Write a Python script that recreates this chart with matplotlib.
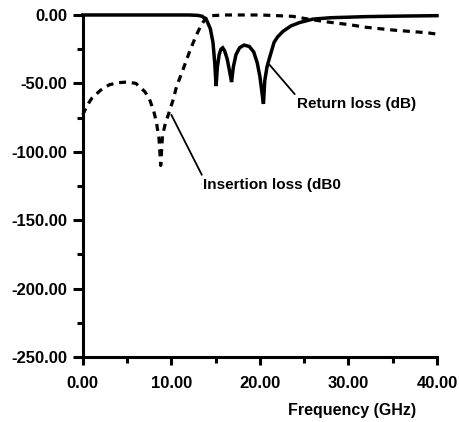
import matplotlib
matplotlib.use("Agg")
import matplotlib.pyplot as plt
from matplotlib.ticker import MultipleLocator, FormatStrFormatter

plt.rcParams['font.family'] = ['Liberation Sans', 'DejaVu Sans']
plt.rcParams['font.weight'] = 'bold'

# Return loss (solid)
freq_rl = [0, 5, 10, 12, 13, 13.5, 14, 14.4, 14.7, 14.9, 15.05, 15.2, 15.4, 15.6, 15.8,
           16.0, 16.3, 16.6, 16.8, 17.0, 17.3, 17.7, 18.2, 18.8, 19.3, 19.7, 20.0, 20.2,
           20.4, 20.55, 20.8, 21.1, 21.6, 22.0, 22.6, 23.5, 24.5, 26.0, 28, 32, 36, 40]
rl = [0, 0, 0, 0, -0.3, -1, -4, -10, -20, -35, -52, -38, -29, -25, -24,
      -26, -32, -42, -49, -38, -29, -24, -22, -23, -27, -35, -45, -55,
      -65, -48, -38, -31, -20, -16, -12, -8, -5.5, -3, -2, -1.2, -0.8, -0.5]

# Insertion loss (dashed)
freq_il = [0, 0.5, 1, 1.5, 2, 3, 4, 5, 6, 7, 7.5, 8, 8.3, 8.6, 8.8, 9.0, 9.3, 9.7,
           10.2, 10.6, 11.2, 12.1, 12.8, 13.4, 14.0, 14.5, 16, 18, 20, 22, 23.7, 25,
           27.5, 30, 32, 35, 38.9, 40]
il = [-73, -66, -61, -58, -55, -51, -49.5, -49, -50, -56, -61, -70, -78, -90, -110, -88,
      -80, -72, -62, -52, -42, -26, -15, -7, -1.5, -0.5, 0, 0, 0, -0.5, -1, -2.5,
      -5, -7, -9, -11, -13, -14]

fig = plt.figure(figsize=(4.6, 4.22), dpi=100)
ax = fig.add_axes([0.180, 0.154, 0.770, 0.8105])

ax.plot(freq_rl, rl, color='black', lw=2.5, solid_joinstyle='miter', clip_on=False)
ax.plot(freq_il, il, color='black', lw=2.3, dashes=(2.2, 1.8), clip_on=False)

ax.set_xlim(0, 40)
ax.set_ylim(-250, 0)
ax.xaxis.set_major_locator(MultipleLocator(10))
ax.xaxis.set_minor_locator(MultipleLocator(5))
ax.yaxis.set_major_locator(MultipleLocator(50))
ax.yaxis.set_minor_locator(MultipleLocator(25))
ax.xaxis.set_major_formatter(FormatStrFormatter('%.2f'))
ax.yaxis.set_major_formatter(FormatStrFormatter('%.2f'))

for s in ['top', 'right']:
    ax.spines[s].set_visible(False)
for s in ['left', 'bottom']:
    ax.spines[s].set_linewidth(2.2)

ax.tick_params(which='major', length=7.5, width=2.2, labelsize=12)
ax.tick_params(which='minor', length=4.5, width=2.2)
ax.tick_params(axis='y', which='major', pad=3.5)
ax.tick_params(axis='x', which='major', length=6, pad=8)
for lab in ax.get_xticklabels() + ax.get_yticklabels():
    lab.set_fontweight('bold')

ax.set_xlabel('Frequency (GHz)', fontsize=11.5, fontweight='bold', ha='right', va='center')
ax.xaxis.set_label_coords(0.94, -0.155)

ax.annotate('Return loss (dB)', xy=(21.1, -36.5), xytext=(24.2, -65),
            fontsize=11, fontweight='bold', va='center', ha='left',
            arrowprops=dict(arrowstyle='-', color='black', lw=1.3, shrinkA=0, shrinkB=0,
                            relpos=(0, 1)))
ax.annotate('Insertion loss (dB0', xy=(10.0, -73), xytext=(13.6, -124),
            fontsize=11, fontweight='bold', va='center', ha='left',
            arrowprops=dict(arrowstyle='-', color='black', lw=1.3, shrinkA=0, shrinkB=0,
                            relpos=(0, 1)))

fig.savefig('out.png', dpi=100)
